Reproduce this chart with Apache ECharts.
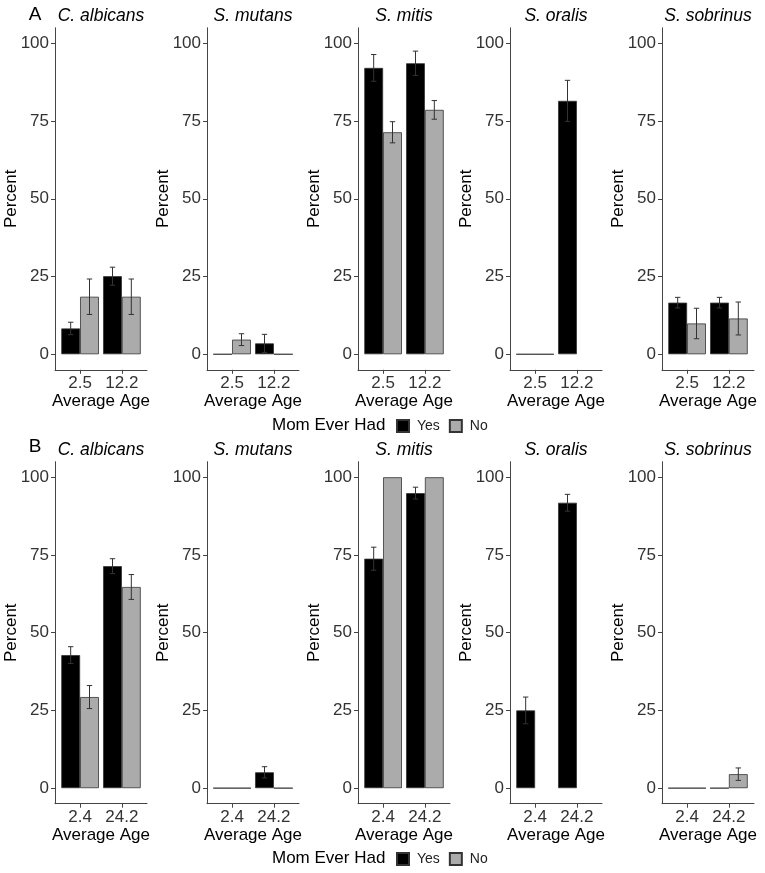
<!DOCTYPE html>
<html>
<head>
<meta charset="utf-8">
<script src="https://cdn.jsdelivr.net/npm/echarts@6/dist/echarts.min.js"></script>
<style>
  html, body { margin: 0; padding: 0; background: #fff; }
  #chart { width: 765px; height: 873px; }
</style>
</head>
<body>
<div id="chart"></div>
<script>
// species panels, same in both rows
const species = ['C. albicans', 'S. mutans', 'S. mitis', 'S. oralis', 'S. sobrinus'];

// row A
const agesA = ['2.5', '12.2'];
const yesA = [[8.3, 25.1], [0, 3.5], [92.1, 93.6], [0, 81.5], [16.6, 16.6]];
const yesErrA = [[2.0, 2.9], [0, 2.9], [4.3, 3.9], [0, 6.6], [1.7, 1.7]];
const noA = [[18.5, 18.5], [4.7, 0], [71.4, 78.6], [0, null], [9.9, 11.5]];
const noErrA = [[5.7, 5.7], [1.9, 0], [3.4, 3.0], [0, null], [4.9, 5.3]];

// row B
const agesB = ['2.4', '24.2'];
const yesB = [[42.8, 71.4], [0, 5.1], [73.8, 94.9], [25.0, 91.8], [0, 0]];
const yesErrB = [[2.7, 2.4], [0, 1.8], [3.7, 1.9], [4.3, 2.7], [0, 0]];
const noB = [[29.3, 64.7], [0, 0], [100, 100], [null, null], [0, 4.5]];
const noErrB = [[3.7, 4.0], [0, 0], [0, 0], [null, null], [0, 2.0]];

const yTicks = [0, 25, 50, 75, 100];

const FONT = '"Liberation Sans", Arial, Helvetica, sans-serif';
const panelLeft = [55, 207, 358, 510, 662];
const panelWidth = 92;
const rowTop = [27.8, 461.7];
const rowHeight = 342;
const dodge = 0.225;

const rowData = [
  { ages: agesA, yes: yesA, yesErr: yesErrA, no: noA, noErr: noErrA },
  { ages: agesB, yes: yesB, yesErr: yesErrB, no: noB, noErr: noErrB }
];

const chart = echarts.init(document.getElementById('chart'));

const grid = [], xAxis = [], yAxis = [], series = [], graphic = [];

function errorItems(vals, errs, off) {
  const out = [];
  vals.forEach((v, i) => {
    if (v != null && errs[i]) out.push([i + 1, v, errs[i], off]);
  });
  return out;
}

rowData.forEach((row, r) => {
  species.forEach((sp, p) => {
    const g = grid.length;
    grid.push({ left: panelLeft[p], top: rowTop[r], width: panelWidth, height: rowHeight });
    xAxis.push({
      type: 'value', gridIndex: g, min: 0.4, max: 2.6,
      name: 'Average Age', nameLocation: 'middle', nameGap: 21,
      nameTextStyle: { fontFamily: FONT, fontSize: 17, color: '#000' },
      splitLine: { show: false },
      axisLine: { show: true, onZero: false, lineStyle: { color: '#444', width: 1 } },
      axisTick: { show: true, length: 4, customValues: [1, 2], lineStyle: { color: '#444' } },
      axisLabel: {
        customValues: [1, 2], margin: 5,
        fontFamily: FONT, fontSize: 17, color: '#333',
        formatter: v => row.ages[Math.round(v) - 1]
      }
    });
    yAxis.push({
      type: 'value', gridIndex: g, min: -5, max: 105,
      name: 'Percent', nameLocation: 'middle', nameGap: 35, nameMoveOverlap: false,
      nameTextStyle: { fontFamily: FONT, fontSize: 17, color: '#000' },
      splitLine: { show: false },
      axisLine: { show: true, onZero: false, lineStyle: { color: '#444', width: 1 } },
      axisTick: { show: true, length: 4, customValues: yTicks, lineStyle: { color: '#444' } },
      axisLabel: { customValues: yTicks, margin: 6, fontFamily: FONT, fontSize: 17, color: '#333' }
    });
    series.push({
      name: 'Yes', type: 'bar', xAxisIndex: g, yAxisIndex: g,
      barWidth: '45%', barGap: '0%',
      itemStyle: { color: '#000', borderColor: '#333', borderWidth: 0.8 },
      data: row.yes[p].map((v, i) => [i + 1, v])
    });
    series.push({
      name: 'No', type: 'bar', xAxisIndex: g, yAxisIndex: g,
      barWidth: '45%', barGap: '0%',
      itemStyle: { color: '#ababab', borderColor: '#333', borderWidth: 0.8 },
      data: row.no[p].map((v, i) => [i + 1, v])
    });
    series.push({
      type: 'custom', xAxisIndex: g, yAxisIndex: g, z: 5,
      encode: { x: 0, y: 1 },
      data: errorItems(row.yes[p], row.yesErr[p], -dodge).concat(errorItems(row.no[p], row.noErr[p], dodge)),
      renderItem(params, api) {
        const x = api.value(0) + api.value(3);
        const y = api.value(1), e = api.value(2);
        const top = api.coord([x, y + e]);
        const bot = api.coord([x, y - e]);
        const cap = 2.7;
        const style = { stroke: '#333', lineWidth: 1 };
        return {
          type: 'group',
          children: [
            { type: 'line', shape: { x1: top[0], y1: top[1], x2: bot[0], y2: bot[1] }, style },
            { type: 'line', shape: { x1: top[0] - cap, y1: top[1], x2: top[0] + cap, y2: top[1] }, style },
            { type: 'line', shape: { x1: bot[0] - cap, y1: bot[1], x2: bot[0] + cap, y2: bot[1] }, style }
          ]
        };
      }
    });
    graphic.push({
      type: 'text', x: panelLeft[p] + panelWidth / 2, y: rowTop[r] - 12,
      style: { text: sp, fontFamily: FONT, fontSize: 17.5, fontStyle: 'italic', fill: '#000', textAlign: 'center', textVerticalAlign: 'middle' }
    });
  });
});

// panel letters and legend titles
graphic.push(
  { type: 'text', x: 35, y: 15, style: { text: 'A', fontFamily: FONT, fontSize: 19, fill: '#000', textAlign: 'center', textVerticalAlign: 'middle' } },
  { type: 'text', x: 35, y: 447, style: { text: 'B', fontFamily: FONT, fontSize: 19, fill: '#000', textAlign: 'center', textVerticalAlign: 'middle' } },
  { type: 'text', x: 272, y: 425, style: { text: 'Mom Ever Had', fontFamily: FONT, fontSize: 17, fill: '#000', textVerticalAlign: 'middle' } },
  { type: 'text', x: 272, y: 858, style: { text: 'Mom Ever Had', fontFamily: FONT, fontSize: 17, fill: '#000', textVerticalAlign: 'middle' } }
);

const legendBase = {
  data: ['Yes', 'No'], left: 396, icon: 'rect', itemWidth: 12, itemHeight: 12, itemGap: 9,
  padding: 0, selectedMode: false,
  textStyle: { fontFamily: FONT, fontSize: 14, color: '#222', padding: [0, 0, 0, 3] }
};

chart.setOption({
  animation: false,
  backgroundColor: '#fff',
  grid, xAxis, yAxis, series, graphic,
  legend: [
    Object.assign({}, legendBase, { top: 419 }),
    Object.assign({}, legendBase, { top: 852 })
  ]
});
</script>
</body>
</html>
